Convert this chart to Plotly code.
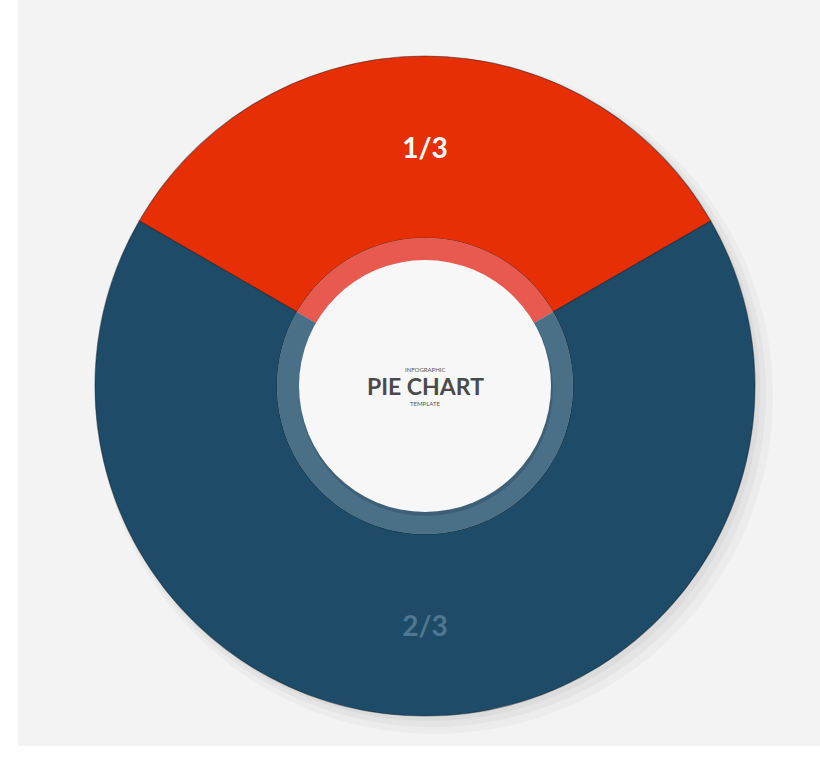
import plotly.graph_objects as go

# ---- data ----
labels = ["1/3", "2/3"]
values = [1, 2]
slice_colors = ["#e72f06", "#1e4b67"]
ring_colors = ["#e85a50", "#4a7088"]
label_colors = ["#ffffff", "#4f7791"]
center_title = "PIE CHART"
center_top = "INFOGRAPHIC"
center_bottom = "TEMPLATE"

W, H = 820, 764
cx, cy = 425, 386          # centre in px (from top)
R_out, R_ring, R_white = 330, 148, 126


def dom(r, dx=0, dy=0):
    x0 = (cx + dx - r) / W
    x1 = (cx + dx + r) / W
    y0 = (H - (cy + dy) - r) / H
    y1 = (H - (cy + dy) + r) / H
    return dict(x=[x0, x1], y=[y0, y1])


fig = go.Figure()

# soft shadow behind donut
for col, d, off in [("#ececec", 8, 10), ("#e4e4e4", 4, 7), ("#dcdcdc", 1, 4)]:
    fig.add_trace(go.Pie(values=[1], marker=dict(colors=[col]), domain=dom(R_out + d, off, off),
                         textinfo="none", hoverinfo="skip", showlegend=False, sort=False))

# main donut
fig.add_trace(go.Pie(
    labels=labels, values=values, text=labels, textinfo="text",
    textposition="inside", insidetextorientation="horizontal",
    textfont=dict(color=label_colors, size=28, family="Lato, Open Sans, sans-serif", weight="bold"),
    marker=dict(colors=slice_colors, line=dict(color="rgba(15,30,40,0.45)", width=1.2)),
    hole=R_ring / R_out, sort=False, direction="clockwise", rotation=-60,
    domain=dom(R_out), showlegend=False, hoverinfo="label+percent",
))

# inner lighter ring
fig.add_trace(go.Pie(
    labels=labels, values=values, textinfo="none",
    marker=dict(colors=ring_colors), sort=False, direction="clockwise", rotation=-60,
    domain=dom(R_ring), showlegend=False, hoverinfo="skip",
))

# white centre disc shadow + disc
fig.add_trace(go.Pie(values=[1], marker=dict(colors=["rgba(20,40,55,0.22)"]), domain=dom(R_white + 1, 1, 3),
                     textinfo="none", hoverinfo="skip", showlegend=False))
fig.add_trace(go.Pie(values=[1], marker=dict(colors=["#f7f7f7"]), domain=dom(R_white),
                     textinfo="none", hoverinfo="skip", showlegend=False))

fig.add_annotation(x=cx / W, y=(H - cy) / H, xref="paper", yref="paper", text=center_title,
                   showarrow=False,
                   font=dict(size=23, color="#4a4a4a", family="Lato, Open Sans, sans-serif", weight="bold"))
fig.add_annotation(x=cx / W, y=(H - cy + 17) / H, xref="paper", yref="paper", text=center_top,
                   showarrow=False, font=dict(size=6, color="#555555", family="Lato, Open Sans, sans-serif"))
fig.add_annotation(x=cx / W, y=(H - cy - 17) / H, xref="paper", yref="paper", text=center_bottom,
                   showarrow=False, font=dict(size=6, color="#555555", family="Lato, Open Sans, sans-serif"))

# light grey backdrop with white border left/bottom
fig.add_shape(type="rect", xref="paper", yref="paper", x0=18 / W, x1=1, y0=(H - 746) / H, y1=1,
              fillcolor="#f3f3f3", line=dict(width=0), layer="below")

fig.update_layout(width=W, height=H, margin=dict(l=0, r=0, t=0, b=0),
                  paper_bgcolor="#ffffff", plot_bgcolor="#ffffff", showlegend=False)

fig.write_html("out.html")
